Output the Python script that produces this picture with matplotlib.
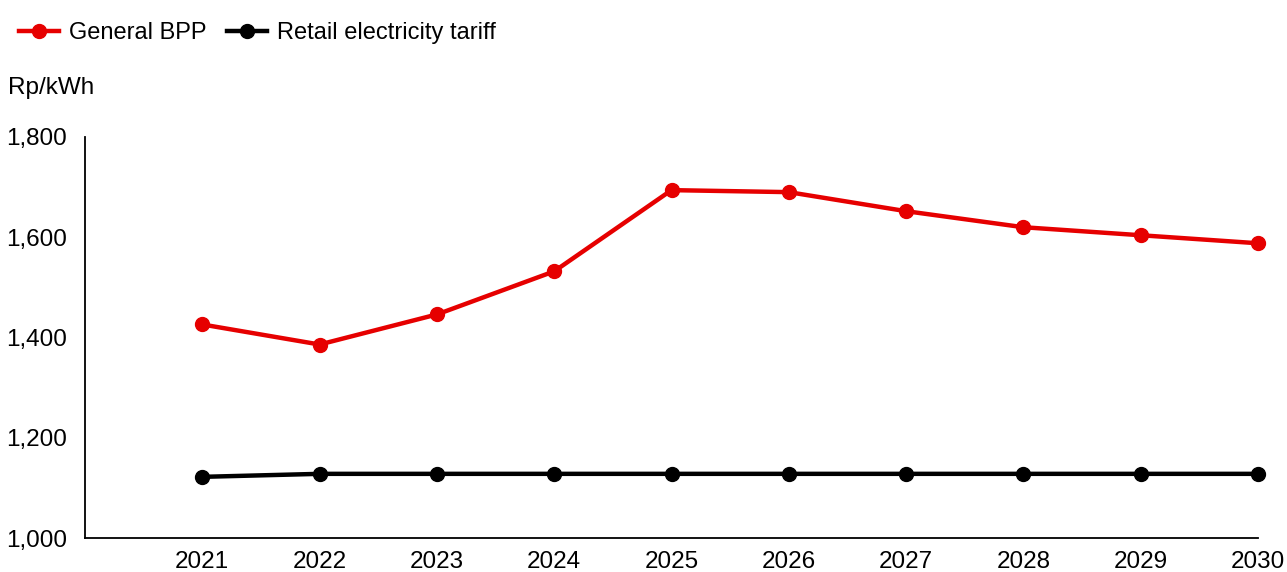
import matplotlib.pyplot as plt
from matplotlib.ticker import FuncFormatter

plt.rcParams['font.family'] = ['Liberation Sans', 'DejaVu Sans']

years = [2021, 2022, 2023, 2024, 2025, 2026, 2027, 2028, 2029, 2030]
general_bpp = [1426, 1386, 1446, 1532, 1694, 1690, 1652, 1620, 1604, 1588]
retail_tariff = [1122, 1128, 1128, 1128, 1128, 1128, 1128, 1128, 1128, 1128]

fig = plt.figure(figsize=(12.87, 5.72), dpi=100)
ax = fig.add_axes([85 / 1287, 34 / 572, (1258 - 85) / 1287, (538 - 137) / 572])

ax.plot(years, general_bpp, color='#E60000', lw=3.2, marker='o', ms=10,
        label='General BPP')
ax.plot(years, retail_tariff, color='black', lw=3.2, marker='o', ms=10,
        label='Retail electricity tariff')

ax.set_xlim(2020, 2030)
ax.set_ylim(1000, 1800)
ax.set_xticks(years)
ax.set_yticks(range(1000, 1801, 200))
ax.yaxis.set_major_formatter(FuncFormatter(lambda v, p: f'{v:,.0f}'))
ax.tick_params(length=0, labelsize=17.5)
ax.tick_params(axis='y', pad=13)
ax.tick_params(axis='x', pad=9)
for s in ['top', 'right']:
    ax.spines[s].set_visible(False)
for s in ['left', 'bottom']:
    ax.spines[s].set_linewidth(1.3)
for line in ax.lines:
    line.set_clip_on(False)

fig.legend(loc='upper left', bbox_to_anchor=(0.002, 0.99), ncol=2, frameon=False,
           fontsize=17, handlelength=1.7, handletextpad=0.42, columnspacing=0.85,
           borderaxespad=0.3)
fig.text(8 / 1287, 1 - 88 / 572, 'Rp/kWh', fontsize=17.5, va='center', ha='left')

fig.savefig('out.png', dpi=100)
